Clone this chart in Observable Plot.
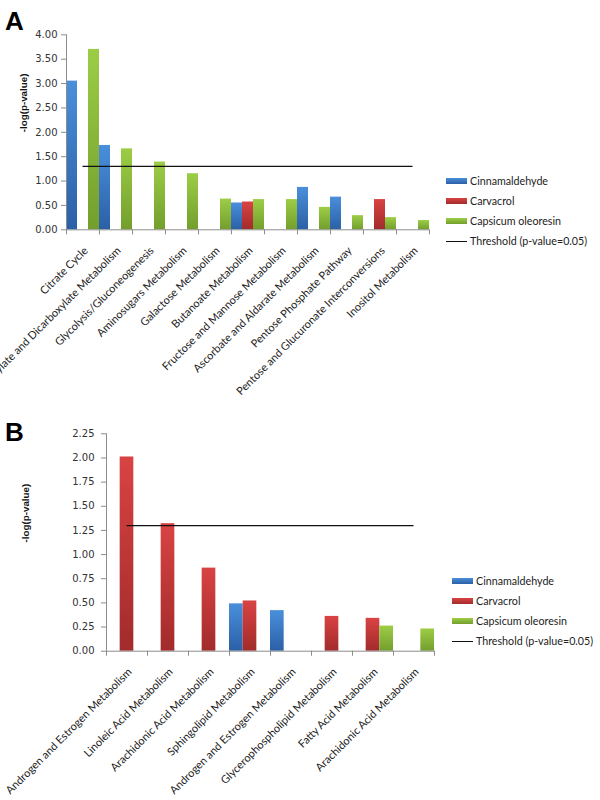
<!DOCTYPE html>
<html>
<head>
<meta charset="utf-8">
<script src="https://cdn.jsdelivr.net/npm/d3@7"></script>
<script src="https://cdn.jsdelivr.net/npm/@observablehq/plot@0.6"></script>
<style>
  html, body { margin: 0; padding: 0; background: #fff; overflow: hidden; }
  #wrap { position: relative; width: 600px; height: 800px; }
  .panel { position: absolute; left: 0; width: 600px; height: 400px; }
  .panel svg { display: block; }
  .letter { position: absolute; left: 5px; font: bold 26px "Liberation Sans", Arial, sans-serif; color: #000; line-height: 1; }
  .legend { position: absolute; font: 10.7px Lato, sans-serif; color: #222; }
  .legend .row { position: absolute; left: 0; height: 20px; white-space: nowrap; }
  .legend .sw { position: absolute; left: 0; width: 21px; height: 6px; top: -3px; }
  .legend .ln { position: absolute; left: 0; width: 21px; height: 0; top: 0; border-top: 1px solid #111; }
  .legend .tx { position: absolute; left: 24px; top: -7px; }
</style>
</head>
<body>
<svg width="0" height="0" style="position:absolute">
  <defs>
    <linearGradient id="grad0" x1="0" y1="0" x2="0" y2="1">
      <stop offset="0" stop-color="#4a8fdb"/><stop offset="1" stop-color="#2b60a6"/>
    </linearGradient>
    <linearGradient id="grad1" x1="0" y1="0" x2="0" y2="1">
      <stop offset="0" stop-color="#d94343"/><stop offset="1" stop-color="#a22b2b"/>
    </linearGradient>
    <linearGradient id="grad2" x1="0" y1="0" x2="0" y2="1">
      <stop offset="0" stop-color="#9dcd46"/><stop offset="1" stop-color="#739e2d"/>
    </linearGradient>
  </defs>
</svg>
<div id="wrap"></div>
<script>
// ---------- data ----------
const series = ["Cinnamaldehyde", "Carvacrol", "Capsicum oleoresin"];
const thresholdLabel = "Threshold (p-value=0.05)";
const threshold = 1.3;
const yLabel = "-log(p-value)";

const categoriesA = [
  "Citrate Cycle",
  "Glyoxylate and Dicarboxylate Metabolism",
  "Glycolysis/Gluconeogenesis",
  "Aminosugars Metabolism",
  "Galactose Metabolism",
  "Butanoate Metabolism",
  "Fructose and Mannose Metabolism",
  "Ascorbate and Aldarate Metabolism",
  "Pentose Phosphate Pathway",
  "Pentose and Glucuronate Interconversions",
  "Inositol Metabolism"
];
const cinnamaldehydeA = [3.05, 1.73, null, null, null, 0.55, null, 0.87, 0.67, null, null];
const carvacrolA      = [null, null, null, null, null, 0.57, null, null, null, 0.62, null];
const capsicumA       = [3.70, 1.66, 1.39, 1.15, 0.63, 0.62, 0.62, 0.46, 0.29, 0.25, 0.19];
const yTicksA = [0, 0.5, 1, 1.5, 2, 2.5, 3, 3.5, 4];

const categoriesB = [
  "Androgen and Estrogen Metabolism",
  "Linoleic Acid Metabolism",
  "Arachidonic Acid Metabolism",
  "Sphingolipid Metabolism",
  "Androgen and Estrogen Metabolism",
  "Glycerophospholipid Metabolism",
  "Fatty Acid Metabolism",
  "Arachidonic Acid Metabolism"
];
const cinnamaldehydeB = [null, null, null, 0.49, 0.42, null, null, null];
const carvacrolB      = [2.01, 1.32, 0.86, 0.52, null, 0.36, 0.34, null];
const capsicumB       = [null, null, null, null, null, null, 0.26, 0.23];
const yTicksB = [0, 0.25, 0.5, 0.75, 1, 1.25, 1.5, 1.75, 2, 2.25];

const swatchColors = ["linear-gradient(#4a8fdb,#2b60a6)", "linear-gradient(#d94343,#a22b2b)", "linear-gradient(#9dcd46,#739e2d)"];

// ---------- helpers ----------
function rowsOf(cats, cols) {
  const rows = [];
  cats.forEach((c, i) => cols.forEach((vals, k) => {
    if (vals[i] != null) rows.push({i, k, cat: c, series: series[k], value: vals[i]});
  }));
  return rows;
}

function panel(o) {
  const n = o.cats.length;
  const rows = rowsOf(o.cats, o.cols);
  const thr = [{y: threshold, from: 0 + 0.5, to: (n - 1) + 0.5}];
  return Plot.plot({
    width: 600, height: 400,
    marginLeft: o.ml, marginRight: o.mr, marginTop: o.mt, marginBottom: o.mb,
    x: {domain: [0, n], axis: null},
    y: {domain: [0, o.yMax], axis: null},
    color: {type: "identity"},
    style: {fontFamily: "'DejaVu Sans', sans-serif", fontSize: "10px", background: "white", overflow: "visible"},
    marks: [
      Plot.rect(rows, {
        x1: d => d.i + d.k / 3, x2: d => d.i + (d.k + 1) / 3,
        y1: 0, y2: "value",
        fill: d => `url(#grad${d.k})`
      }),
      Plot.ruleX([0], {stroke: "#8c8c8c"}),
      Plot.ruleY([0], {stroke: "#8c8c8c"}),
      Plot.axisY({
        ticks: o.yTicks, tickFormat: d3.format(".2f"), tickSize: 5, tickPadding: o.tpy,
        stroke: "#8c8c8c", fill: "#333", fontFamily: "DejaVu Sans", fontSize: 10, label: null
      }),
      Plot.axisX({
        ticks: d3.range(n + 1), tickFormat: () => "", tickSize: 5,
        stroke: "#8c8c8c", label: null
      }),
      Plot.axisX({
        ticks: d3.range(n).map(i => i + 0.5), tickFormat: t => o.cats[Math.floor(t)],
        tickSize: 0, tickRotate: -45, tickPadding: 19, dx: 3,
        fontFamily: "Lato", fontSize: 11, fill: "#222", label: null
      }),
      Plot.ruleY(thr, {y: "y", x1: "from", x2: "to", stroke: "#111", strokeWidth: 1.2}),
      Plot.text([yLabel], {
        frameAnchor: "left", rotate: -90, dx: o.ldx, fontWeight: "bold",
        fontFamily: "Liberation Sans", fontSize: 9.8, fill: "#111"
      })
    ]
  });
}

function legend(left, top) {
  const lg = document.createElement("div");
  lg.className = "legend";
  lg.style.left = left + "px";
  lg.style.top = top + "px";
  series.forEach((s, k) => {
    const r = document.createElement("div");
    r.className = "row"; r.style.top = (k * 20) + "px";
    r.innerHTML = `<div class="sw" style="background:${swatchColors[k]}"></div><div class="tx">${s}</div>`;
    lg.appendChild(r);
  });
  const r = document.createElement("div");
  r.className = "row"; r.style.top = (series.length * 20) + "px";
  r.innerHTML = `<div class="ln"></div><div class="tx">${thresholdLabel}</div>`;
  lg.appendChild(r);
  return lg;
}

const wrap = document.getElementById("wrap");

const pA = document.createElement("div");
pA.className = "panel"; pA.style.top = "0px";
pA.appendChild(panel({
  cats: categoriesA, cols: [cinnamaldehydeA, carvacrolA, capsicumA],
  yTicks: yTicksA, yMax: 4, ml: 66, mr: 171, mt: 34.3, mb: 170.7, tpy: 4, ldx: -43
}));
wrap.appendChild(pA);

const pB = document.createElement("div");
pB.className = "panel"; pB.style.top = "400px";
pB.appendChild(panel({
  cats: categoriesB, cols: [cinnamaldehydeB, carvacrolB, capsicumB],
  yTicks: yTicksB, yMax: 2.25, ml: 106, mr: 166, mt: 33.3, mb: 149.3, tpy: 7, ldx: -81
}));
wrap.appendChild(pB);

const la = document.createElement("div"); la.className = "letter"; la.textContent = "A";
la.style.top = "8px"; wrap.appendChild(la);
const lb = document.createElement("div"); lb.className = "letter"; lb.textContent = "B";
lb.style.top = "419px"; wrap.appendChild(lb);

wrap.appendChild(legend(446, 181));
wrap.appendChild(legend(452, 581));
</script>
</body>
</html>
